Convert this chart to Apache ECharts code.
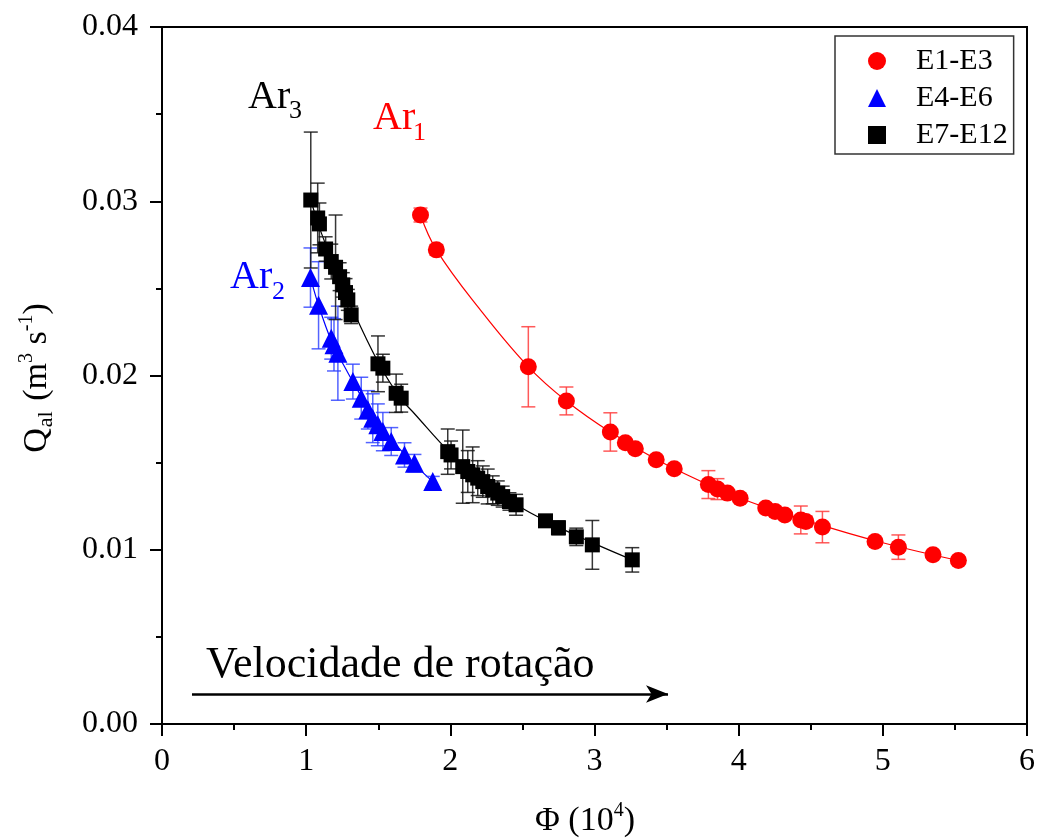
<!DOCTYPE html>
<html>
<head>
<meta charset="utf-8">
<script src="https://cdn.jsdelivr.net/npm/echarts@6/dist/echarts.min.js"></script>
<style>
  html, body { margin: 0; padding: 0; background: #fff; }
  #chart { width: 1038px; height: 839px; }
</style>
</head>
<body>
<div id="chart"></div>
<script>
// Tick values
const xTicks = [0, 1, 2, 3, 4, 5, 6];
const yTicks = [0.00, 0.01, 0.02, 0.03, 0.04];

// E1-E3 (Ar1)
const redX   = [1.793, 1.903, 2.541, 2.805, 3.110, 3.214, 3.283, 3.428, 3.553, 3.790, 3.853, 3.922, 4.010, 4.188, 4.253, 4.320, 4.431, 4.466, 4.581, 4.946, 5.108, 5.348, 5.524];
const redY   = [0.02921, 0.02721, 0.02050, 0.01854, 0.01676, 0.01614, 0.01579, 0.01516, 0.01465, 0.01374, 0.01348, 0.01325, 0.01296, 0.01239, 0.01219, 0.01200, 0.01171, 0.01162, 0.01130, 0.01047, 0.01015, 0.00971, 0.00938];
const redErr = [0.0004, 0.0003, 0.0023, 0.0008, 0.0011, 0.0002, 0.0002, 0.0002, 0.0002, 0.0008, 0.0006, 0.0002, 0.0002, 0.0002, 0.0002, 0.0002, 0.0008, 0.0003, 0.0009, 0.0002, 0.0007, 0.0002, 0.0002];
const redFitX = [1.793, 1.903, 2.20, 2.541, 2.805, 3.110, 3.50, 4.00, 4.50, 5.00, 5.524];
const redFitY = [0.02921, 0.02721, 0.02385, 0.02050, 0.01854, 0.01676, 0.01488, 0.01300, 0.01160, 0.01040, 0.00938];

// E4-E6 (Ar2)
const blueX   = [1.030, 1.086, 1.174, 1.193, 1.220, 1.324, 1.382, 1.428, 1.462, 1.497, 1.532, 1.590, 1.682, 1.751, 1.878];
const blueY   = [0.02562, 0.02403, 0.02214, 0.02176, 0.02128, 0.01965, 0.01870, 0.01803, 0.01755, 0.01717, 0.01678, 0.01621, 0.01544, 0.01497, 0.01391];
const blueErr = [0.0017, 0.0025, 0.0012, 0.0015, 0.0027, 0.0010, 0.0012, 0.0011, 0.0014, 0.0012, 0.0011, 0.0008, 0.0007, 0.0005, 0.0003];
const blueFitX = [1.030, 1.086, 1.174, 1.260, 1.382, 1.500, 1.620, 1.751, 1.878];
const blueFitY = [0.02562, 0.02403, 0.02200, 0.02060, 0.01880, 0.01725, 0.01605, 0.01490, 0.01391];

// E7-E12 (Ar3)
const blackX   = [1.032, 1.080, 1.092, 1.135, 1.174, 1.204, 1.232, 1.254, 1.273, 1.289, 1.312, 1.498, 1.532, 1.624, 1.659, 1.982, 2.005, 2.086, 2.121, 2.155, 2.190, 2.225, 2.259, 2.294, 2.329, 2.363, 2.410, 2.456, 2.660, 2.750, 2.874, 2.985, 3.262];
const blackY   = [0.03007, 0.02904, 0.02870, 0.02726, 0.02654, 0.02621, 0.02567, 0.02520, 0.02476, 0.02434, 0.02348, 0.02067, 0.02042, 0.01898, 0.01870, 0.01563, 0.01544, 0.01477, 0.01449, 0.01430, 0.01411, 0.01391, 0.01363, 0.01344, 0.01325, 0.01305, 0.01277, 0.01258, 0.01166, 0.01126, 0.01074, 0.01028, 0.00942];
const blackErr = [0.0039, 0.0020, 0.0012, 0.0007, 0.0010, 0.0030, 0.0008, 0.0007, 0.0008, 0.0006, 0.0005, 0.0016, 0.0008, 0.0011, 0.0008, 0.0013, 0.0008, 0.0021, 0.0012, 0.0016, 0.0010, 0.0009, 0.0010, 0.0008, 0.0007, 0.0006, 0.0005, 0.0006, 0.0003, 0.0004, 0.0005, 0.0014, 0.0007];
const blackFitX = [1.032, 1.10, 1.20, 1.30, 1.50, 1.65, 1.75, 2.00, 2.20, 2.45, 2.70, 3.00, 3.262];
const blackFitY = [0.03007, 0.02830, 0.02620, 0.02420, 0.02075, 0.01875, 0.01782, 0.01555, 0.01410, 0.01262, 0.01150, 0.01035, 0.00942];

// Rotation-speed arrow (data coordinates)
const arrowX = [0.208, 3.51];
const arrowY = 0.00172;

const SERIF = '"Liberation Serif", "DejaVu Serif", serif';

function zip2(xs, ys) { return xs.map((x, i) => [x, ys[i]]); }
function zip3(xs, ys, es) { return xs.map((x, i) => [x, ys[i], es[i]]); }

function errorBars(name, xs, ys, es, color) {
  return {
    name: name + ' err',
    type: 'custom',
    data: zip3(xs, ys, es),
    z: 2,
    silent: true,
    encode: { x: 0, y: 1 },
    renderItem: function (params, api) {
      const x = api.value(0), y = api.value(1), e = api.value(2);
      const top = api.coord([x, y + e]);
      const bot = api.coord([x, y - e]);
      const hw = 7;
      const style = { stroke: color, lineWidth: 1.5, fill: null };
      return {
        type: 'group',
        children: [
          { type: 'line', shape: { x1: top[0], y1: top[1], x2: bot[0], y2: bot[1] }, style: style },
          { type: 'line', shape: { x1: top[0] - hw, y1: top[1], x2: top[0] + hw, y2: top[1] }, style: style },
          { type: 'line', shape: { x1: bot[0] - hw, y1: bot[1], x2: bot[0] + hw, y2: bot[1] }, style: style }
        ]
      };
    }
  };
}

function fitLine(xs, ys, color, extra) {
  return Object.assign({
    type: 'line',
    data: zip2(xs, ys),
    smooth: 0.4,
    showSymbol: false,
    symbol: 'none',
    silent: true,
    z: 1,
    lineStyle: { color: color, width: 1.2 }
  }, extra || {});
}

const chart = echarts.init(document.getElementById('chart'), null, { renderer: 'canvas' });

const axisCommon = {
  axisLine: { show: true, lineStyle: { color: '#000', width: 2 } },
  axisTick: { show: true, inside: false, length: 12, lineStyle: { color: '#000', width: 2 } },
  minorTick: { show: true, splitNumber: 2, length: 6, lineStyle: { color: '#000', width: 2 } },
  splitLine: { show: false },
  axisLabel: { color: '#000', fontFamily: SERIF, fontSize: 32 }
};

chart.setOption({
  animation: false,
  backgroundColor: '#fff',
  grid: {
    left: 162, top: 27, right: 10, bottom: 115,
    show: true, borderColor: '#000', borderWidth: 2, backgroundColor: 'transparent'
  },
  xAxis: Object.assign({}, axisCommon, {
    type: 'value', min: xTicks[0], max: xTicks[xTicks.length - 1], interval: 1,
    axisLabel: Object.assign({}, axisCommon.axisLabel, { margin: 22 })
  }),
  yAxis: Object.assign({}, axisCommon, {
    type: 'value', min: yTicks[0], max: yTicks[yTicks.length - 1], interval: 0.01,
    axisLabel: Object.assign({}, axisCommon.axisLabel, {
      margin: 24,
      formatter: v => v.toFixed(2)
    })
  }),
  legend: {
    left: 835, top: 36,
    orient: 'vertical',
    data: ['E1-E3', 'E4-E6', 'E7-E12'],
    itemWidth: 18, itemHeight: 18, itemGap: 7,
    padding: [10, 6, 4, 33],
    borderColor: '#333', borderWidth: 1.5, borderRadius: 0,
    backgroundColor: '#fff',
    formatter: '{t|{name}}',
    textStyle: {
      color: '#000',
      rich: {
        t: { fontFamily: SERIF, fontSize: 30, color: '#000', padding: [0, 0, 0, 25] }
      }
    },
    selectedMode: false
  },
  series: [
    fitLine(redFitX, redFitY, '#ff0000'),
    fitLine(blueFitX, blueFitY, '#0000ff'),
    fitLine(blackFitX, blackFitY, '#000000', {
      markLine: {
        silent: true,
        symbol: ['none', 'arrow'],
        symbolSize: [13, 22],
        label: { show: false },
        lineStyle: { color: '#000', width: 2.5, type: 'solid' },
        data: [[{ coord: [arrowX[0], arrowY] }, { coord: [arrowX[1], arrowY] }]]
      }
    }),
    errorBars('E1-E3', redX, redY, redErr, 'rgba(255,60,60,0.85)'),
    errorBars('E4-E6', blueX, blueY, blueErr, 'rgba(40,60,255,0.8)'),
    errorBars('E7-E12', blackX, blackY, blackErr, 'rgba(20,20,20,0.85)'),
    {
      name: 'E1-E3', type: 'scatter', data: zip2(redX, redY),
      symbol: 'circle', symbolSize: 17, z: 5,
      itemStyle: { color: '#ff0000', opacity: 1 }
    },
    {
      name: 'E4-E6', type: 'scatter', data: zip2(blueX, blueY),
      symbol: 'triangle', symbolSize: 19, z: 5,
      itemStyle: { color: '#0000ff', opacity: 1 }
    },
    {
      name: 'E7-E12', type: 'scatter', data: zip2(blackX, blackY),
      symbol: 'rect', symbolSize: 15, z: 5,
      itemStyle: { color: '#000000', opacity: 1 }
    }
  ],
  graphic: [
    // y-axis title
    {
      type: 'text', x: 37, y: 378, rotation: Math.PI / 2,
      style: {
        text: '{a|Q}{s|al}{a| (m}{p|3}{a| s}{p|-1}{a|)}',
        align: 'center', verticalAlign: 'middle',
        rich: {
          a: { fontFamily: SERIF, fontSize: 34, color: '#000', lineHeight: 40, verticalAlign: 'middle' },
          s: { fontFamily: SERIF, fontSize: 22, color: '#000', lineHeight: 22, verticalAlign: 'bottom', padding: [0, 2, 0, 1] },
          p: { fontFamily: SERIF, fontSize: 20, color: '#000', lineHeight: 20, verticalAlign: 'top' }
        }
      }
    },
    // x-axis title
    {
      type: 'text', x: 585, y: 821,
      style: {
        text: '{a|Φ (10}{p|4}{a|)}',
        align: 'center', verticalAlign: 'middle',
        rich: {
          a: { fontFamily: SERIF, fontSize: 34, color: '#000', lineHeight: 40, verticalAlign: 'middle' },
          p: { fontFamily: SERIF, fontSize: 20, color: '#000', lineHeight: 20, verticalAlign: 'top' }
        }
      }
    },
    // arrow caption
    {
      type: 'text', x: 206, y: 665,
      style: { text: 'Velocidade de rotação', fontFamily: SERIF, fontSize: 44, fill: '#000', align: 'left', verticalAlign: 'middle' }
    },
    // group labels
    { type: 'text', x: 248, y: 97, style: { text: 'Ar', fontFamily: SERIF, fontSize: 40, fill: '#000', verticalAlign: 'middle' } },
    { type: 'text', x: 289, y: 111, style: { text: '3', fontFamily: SERIF, fontSize: 26, fill: '#000', verticalAlign: 'middle' } },
    { type: 'text', x: 373, y: 118, style: { text: 'Ar', fontFamily: SERIF, fontSize: 40, fill: '#ff0000', verticalAlign: 'middle' } },
    { type: 'text', x: 413, y: 133, style: { text: '1', fontFamily: SERIF, fontSize: 26, fill: '#ff0000', verticalAlign: 'middle' } },
    { type: 'text', x: 230, y: 277, style: { text: 'Ar', fontFamily: SERIF, fontSize: 40, fill: '#0000ff', verticalAlign: 'middle' } },
    { type: 'text', x: 272, y: 292, style: { text: '2', fontFamily: SERIF, fontSize: 26, fill: '#0000ff', verticalAlign: 'middle' } }
  ]
});
</script>
</body>
</html>
